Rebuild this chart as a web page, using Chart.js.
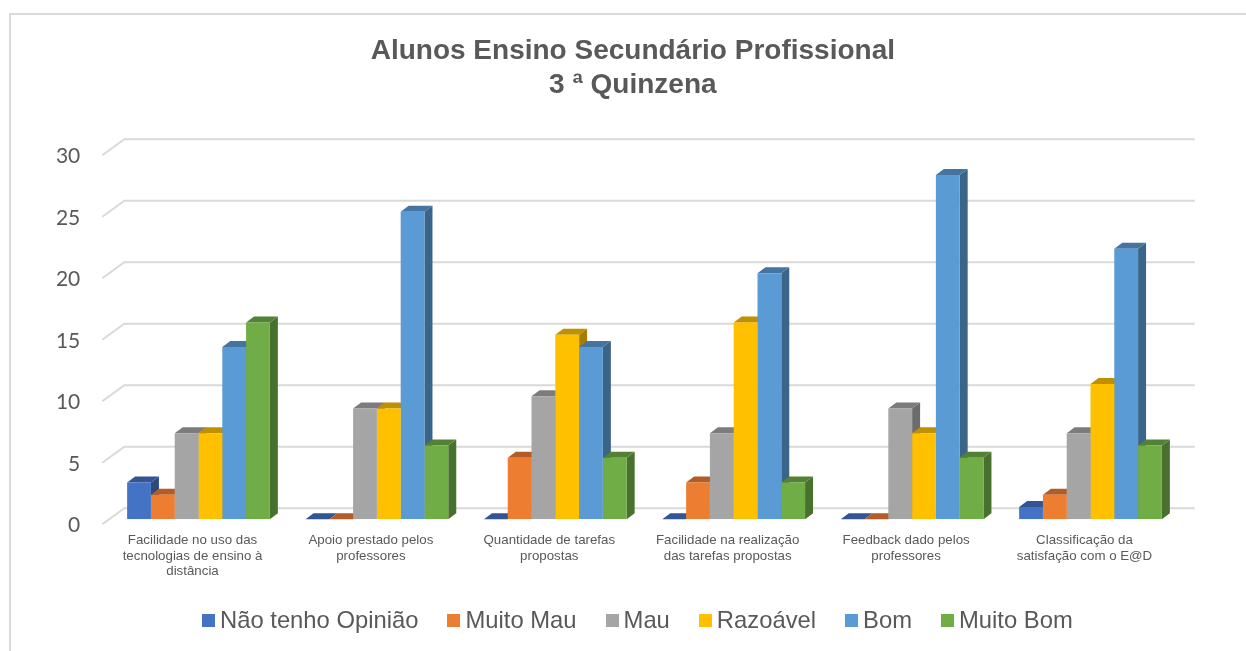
<!DOCTYPE html>
<html>
<head>
<meta charset="utf-8">
<title>Alunos Ensino Secundário Profissional</title>
<script src="https://cdn.jsdelivr.net/npm/chart.js@4/dist/chart.umd.js"></script>
<style>
    html, body { margin: 0; padding: 0; background: #fff; overflow: hidden; }
    #frame { position: absolute; left: 9px; top: 13px; width: 1300px; height: 700px; border: 2px solid #d9d9d9; }
    #graph { position: absolute; left: 0; top: 0; }
    #legend { position: absolute; left: 202px; top: 606px; display: flex; gap: 29px; font: 23.8px/28px "Liberation Sans"; color: #595959; white-space: nowrap; }
    #legend div { display: flex; align-items: center; gap: 5px; }
    #legend i { display: block; width: 13px; height: 13px; }
</style>
</head>
<body>
<div id="frame"></div>
<canvas id="graph" width="1246" height="651"></canvas>
<div id="legend"></div>
<script>
const categories = [
    ["Facilidade no uso das", "tecnologias de ensino à", "distância"],
    ["Apoio prestado pelos", "professores"],
    ["Quantidade de tarefas", "propostas"],
    ["Facilidade na realização", "das tarefas propostas"],
    ["Feedback dado pelos", "professores"],
    ["Classificação da", "satisfação com o E@D"]
];
const seriesNames = ["Não tenho Opinião", "Muito Mau", "Mau", "Razoável", "Bom", "Muito Bom"];
const naoTenhoOpiniao = [3, 0, 0, 0, 0, 1];
const muitoMau = [2, 0, 5, 3, 0, 2];
const mau = [7, 9, 10, 7, 9, 7];
const razoavel = [7, 9, 15, 16, 7, 11];
const bom = [14, 25, 14, 20, 28, 22];
const muitoBom = [16, 6, 5, 3, 5, 6];
const seriesValues = [naoTenhoOpiniao, muitoMau, mau, razoavel, bom, muitoBom];

const frontColors = ["#4472c4", "#ed7d31", "#a5a5a5", "#ffc000", "#5b9bd5", "#70ad47"];
const topColors = ["#335593", "#b25d25", "#7c7c7c", "#bf9000", "#44749f", "#548235"];
const sideColors = ["#2c4a80", "#a05020", "#6c6c6c", "#a67d00", "#3b6588", "#49712e"];

// profondeur des barres et du fond
const barDepth = { x: 8, y: 6 };
const wall = { backX: 15, backY: 11, frontX: 7, frontY: 5 };

const wall3d = {
    id: "wall3d",
    // le titre est centre sur x = 633, pas sur la zone du graphique
    afterLayout(chart) {
        chart.titleBlock.left += 33;
        chart.titleBlock.right += 33;
    },
    beforeDatasetsDraw(chart) {
        const ctx = chart.ctx;
        const y = chart.scales.y;
        const area = chart.chartArea;
        ctx.save();
        ctx.strokeStyle = "#d9d9d9";
        ctx.lineWidth = 2;
        y.ticks.forEach(t => {
            let py = y.getPixelForValue(t.value);
            ctx.beginPath();
            ctx.moveTo(area.left - wall.frontX, py + wall.frontY);
            ctx.lineTo(area.left + wall.backX, py - wall.backY);
            ctx.lineTo(area.right + wall.backX, py - wall.backY);
            ctx.stroke();
        });

        // cotes et dessus, de gauche a droite : les faces avant passent ensuite par dessus
        let dx = barDepth.x, dy = barDepth.y;
        seriesNames.forEach((name, i) => {
            chart.getDatasetMeta(i).data.forEach(bar => {
                let left = bar.x - bar.width / 2;
                let right = bar.x + bar.width / 2;

                ctx.fillStyle = sideColors[i];
                ctx.beginPath();
                ctx.moveTo(right, bar.y);
                ctx.lineTo(right + dx, bar.y - dy);
                ctx.lineTo(right + dx, bar.base - dy);
                ctx.lineTo(right, bar.base);
                ctx.closePath();
                ctx.fill();

                ctx.fillStyle = topColors[i];
                ctx.beginPath();
                ctx.moveTo(left, bar.y);
                ctx.lineTo(left + dx, bar.y - dy);
                ctx.lineTo(right + dx, bar.y - dy);
                ctx.lineTo(right, bar.y);
                ctx.closePath();
                ctx.fill();
            });
        });
        ctx.restore();
    }
};

new Chart(document.getElementById("graph"), {
    type: "bar",
    plugins: [wall3d],
    data: {
        labels: categories,
        datasets: seriesNames.map((name, i) => ({
            label: name,
            data: seriesValues[i],
            backgroundColor: frontColors[i]
        }))
    },
    options: {
        responsive: false,
        animation: false,
        layout: { padding: { left: 20, right: 66.3, top: 0, bottom: 0 } },
        datasets: { bar: { categoryPercentage: 0.8, barPercentage: 1 } },
        plugins: {
            title: {
                display: true,
                text: ["Alunos Ensino Secundário Profissional", "3 ª Quinzena"],
                color: "#595959",
                font: { family: "'Liberation Sans'", size: 28, weight: "bold", lineHeight: 34 / 28 },
                padding: { top: 34, bottom: 48.3 }
            },
            legend: { display: false },
            tooltip: { enabled: false }
        },
        scales: {
            x: {
                grid: { display: false, drawTicks: false },
                border: { display: false },
                afterFit: scale => { scale.height = 131.7; },
                ticks: {
                    autoSkip: false,
                    maxRotation: 0,
                    padding: 13,
                    color: "#595959",
                    labelOffset: -6,
                    font: { family: "'Liberation Sans'", size: 13.3, lineHeight: 1.18 }
                }
            },
            y: {
                min: 0,
                max: 30,
                grid: { display: false, drawTicks: false },
                border: { display: false },
                afterFit: scale => { scale.width = 89.3; },
                ticks: {
                    stepSize: 5,
                    padding: 29,
                    labelOffset: 6,
                    color: "#595959",
                    font: { family: "Lato", size: 21 }
                }
            }
        }
    }
});

// legende en HTML pour garder les ecarts de l'original
const legend = document.getElementById("legend");
seriesNames.forEach((name, i) => {
    let item = document.createElement("div");
    let box = document.createElement("i");
    box.style.background = frontColors[i];
    item.appendChild(box);
    item.appendChild(document.createTextNode(name));
    legend.appendChild(item);
});
</script>
</body>
</html>
